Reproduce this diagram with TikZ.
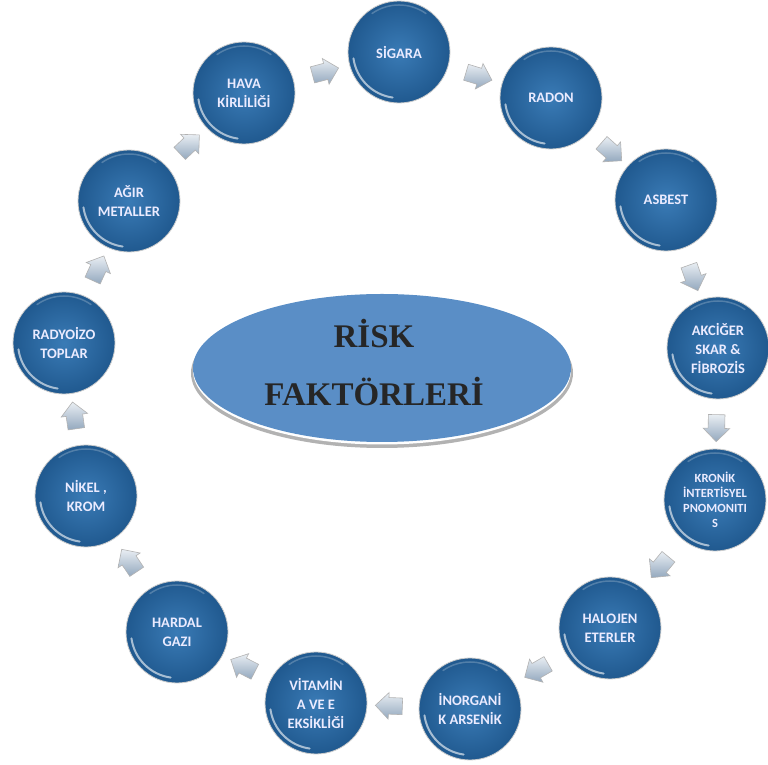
\documentclass[tikz,border=0pt]{standalone}
\usepackage{fontspec}
\setmainfont{Liberation Serif}
\newfontfamily\carl{Carlito}
\usetikzlibrary{shapes.geometric,shapes.arrows}
\definecolor{ballin}{HTML}{3A7BB6}
\definecolor{ballout}{HTML}{20598F}
\definecolor{ellfill}{HTML}{5A8EC6}
\definecolor{arrlight}{HTML}{E9EEF3}
\definecolor{arrdark}{HTML}{93A8BE}
\begin{document}
\begin{tikzpicture}[x=1pt,y=1pt,
  ball/.style={circle, minimum size=102pt, inner sep=0pt,
    inner color=ballin, outer color=ballout, draw=gray!40, line width=0.8pt,
    text=white!92!blue, align=center,
    font=\carl\bfseries\fontsize{14.5}{19}\selectfont,
    path picture={
      \draw[white,opacity=.6,line width=2pt,line cap=round]
        (path picture bounding box.center) ++(188:46) arc (188:262:46);
      \draw[white,opacity=.22,line width=1.5pt,line cap=round]
        (path picture bounding box.center) ++(55:47) arc (55:125:47);
    }},
  smalltxt/.style={font=\carl\bfseries\fontsize{12.5}{15}\selectfont},
  arr/.style={single arrow, single arrow head extend=5pt, minimum height=27pt,
    inner xsep=0pt, inner ysep=8pt, top color=arrlight, bottom color=arrdark,
    draw=gray!60, line width=0.6pt, sloped, allow upside down},
  elltext/.style={font=\bfseries\fontsize{33}{58}\selectfont, text=black!85, align=center}
]
\useasboundingbox[fill=white] (0,0) rectangle (768,765);

% central ellipse
\fill[gray!60] (382,392) ellipse [x radius=191, y radius=75];
\fill[white] (382,394.5) ellipse [x radius=189, y radius=74];
\node[ellipse, fill=ellfill, minimum width=378pt, minimum height=148pt, inner sep=0pt] (ell) at (382,397) {};
\node[elltext] (title) at (374,402) {RİSK\\FAKTÖRLERİ};

% circles
\node[ball] (sig) at (399,713) {SİGARA};
\node[ball] (rad) at (551,667) {RADON};
\node[ball] (asb) at (666,565) {ASBEST};
\node[ball] (akc) at (718,417) {AKCİĞER\\SKAR \&\\FİBROZİS};
\node[ball, smalltxt] (kro) at (715,265) {KRONİK\\İNTERTİSYEL\\PNOMONITI\\S};
\node[ball] (hal) at (610,137) {HALOJEN\\ETERLER};
\node[ball] (ino) at (470,56) {İNORGANİ\\K ARSENİK};
\node[ball] (vit) at (316,62) {VİTAMİN\\A VE E\\EKSİKLİĞİ};
\node[ball] (har) at (177,133) {HARDAL\\GAZI};
\node[ball] (nik) at (86,269) {NİKEL ,\\KROM};
\node[ball] (rdy) at (64,422) {RADYOİZO\\TOPLAR};
\node[ball] (agr) at (129,564) {AĞIR\\METALLER};
\node[ball] (hav) at (244,672) {HAVA\\KİRLİLİĞİ};

% arrows
\path (hav) -- node[arr] {} (sig);
\path (sig) -- node[arr] {} (rad);
\path (rad) -- node[arr] {} (asb);
\path (asb) -- node[arr] {} (akc);
\path (akc) -- node[arr] {} (kro);
\path (kro) -- node[arr] {} (hal);
\path (hal) -- node[arr] {} (ino);
\path (ino) -- node[arr] {} (vit);
\path (vit) -- node[arr] {} (har);
\path (har) -- node[arr] {} (nik);
\path (nik) -- node[arr] {} (rdy);
\path (rdy) -- node[arr] {} (agr);
\path (agr) -- node[arr] {} (hav);
\end{tikzpicture}
\end{document}
